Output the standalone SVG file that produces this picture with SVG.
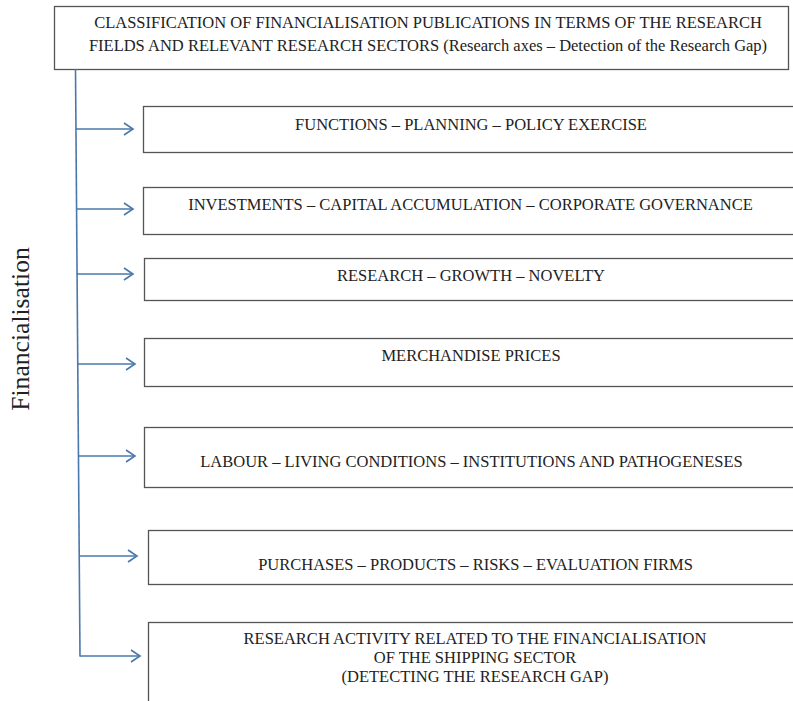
<svg xmlns="http://www.w3.org/2000/svg" width="793" height="701" viewBox="0 0 793 701" font-family="Liberation Serif, Times New Roman, serif">
<style>
.box{fill:#fff;stroke:#555;stroke-width:1.3}
.t{font-size:16.5px;fill:#222;text-anchor:middle}
.c{fill:none;stroke:#4a78aa;stroke-width:1.6}
</style>
<defs>
<marker id="ah" markerWidth="12" markerHeight="14" refX="10" refY="7" orient="auto" markerUnits="userSpaceOnUse">
<path d="M1,1 L10,7 L1,13" fill="none" stroke="#4a78aa" stroke-width="1.6"/>
</marker>
</defs>
<rect width="793" height="701" fill="#fff"/>
<g id="title">
<rect class="box" x="54.5" y="6.5" width="734" height="63"/>
<text class="t" font-family="Liberation Serif" x="428" y="28">CLASSIFICATION OF FINANCIALISATION PUBLICATIONS IN TERMS OF THE RESEARCH</text>
<text class="t" font-family="Liberation Serif" x="428" y="50.5">FIELDS AND RELEVANT RESEARCH SECTORS (Research axes – Detection of the Research Gap)</text>
</g>
<g id="n1">
<rect class="box" x="143.5" y="106.5" width="660" height="46"/>
<text class="t" font-family="Liberation Serif" x="471" y="129.5">FUNCTIONS – PLANNING – POLICY EXERCISE</text>
</g>
<g id="n2">
<rect class="box" x="143.5" y="187.5" width="660" height="47"/>
<text class="t" font-family="Liberation Serif" x="470.5" y="209.5">INVESTMENTS – CAPITAL ACCUMULATION – CORPORATE GOVERNANCE</text>
</g>
<g id="n3">
<rect class="box" x="144.5" y="258.5" width="660" height="42"/>
<text class="t" font-family="Liberation Serif" x="471" y="280.5">RESEARCH – GROWTH – NOVELTY</text>
</g>
<g id="n4">
<rect class="box" x="144.5" y="338.5" width="660" height="48"/>
<text class="t" font-family="Liberation Serif" x="471" y="360.5">MERCHANDISE PRICES</text>
</g>
<g id="n5">
<rect class="box" x="144.5" y="427.5" width="660" height="60"/>
<text class="t" font-family="Liberation Serif" x="471.5" y="466.5">LABOUR – LIVING CONDITIONS – INSTITUTIONS AND PATHOGENESES</text>
</g>
<g id="n6">
<rect class="box" x="148.5" y="530.5" width="660" height="54"/>
<text class="t" font-family="Liberation Serif" x="475.5" y="569.5">PURCHASES – PRODUCTS – RISKS – EVALUATION FIRMS</text>
</g>
<g id="n7">
<rect class="box" x="148.5" y="622.5" width="660" height="100"/>
<text class="t" font-family="Liberation Serif" x="475" y="643.5">RESEARCH ACTIVITY RELATED TO THE FINANCIALISATION</text>
<text class="t" font-family="Liberation Serif" x="475" y="662.5">OF THE SHIPPING SECTOR</text>
<text class="t" font-family="Liberation Serif" x="475" y="681.5">(DETECTING THE RESEARCH GAP)</text>
</g>
<g id="side">
<text x="29" y="329" transform="rotate(-90 29 329)" font-family="Liberation Serif" font-size="25.6" fill="#222" text-anchor="middle">Financialisation</text>
</g>
<g id="connectors">
<path class="c" d="M75.5,69 L80,656.5"/>
<path class="c" d="M75.9,129 H133" marker-end="url(#ah)"/>
<path class="c" d="M76.4,209 H133" marker-end="url(#ah)"/>
<path class="c" d="M76.8,274 H133" marker-end="url(#ah)"/>
<path class="c" d="M77.5,364 H135" marker-end="url(#ah)"/>
<path class="c" d="M78.2,456 H135" marker-end="url(#ah)"/>
<path class="c" d="M78.9,556 H137" marker-end="url(#ah)"/>
<path class="c" d="M79.8,656 H140" marker-end="url(#ah)"/>
</g>
</svg>
